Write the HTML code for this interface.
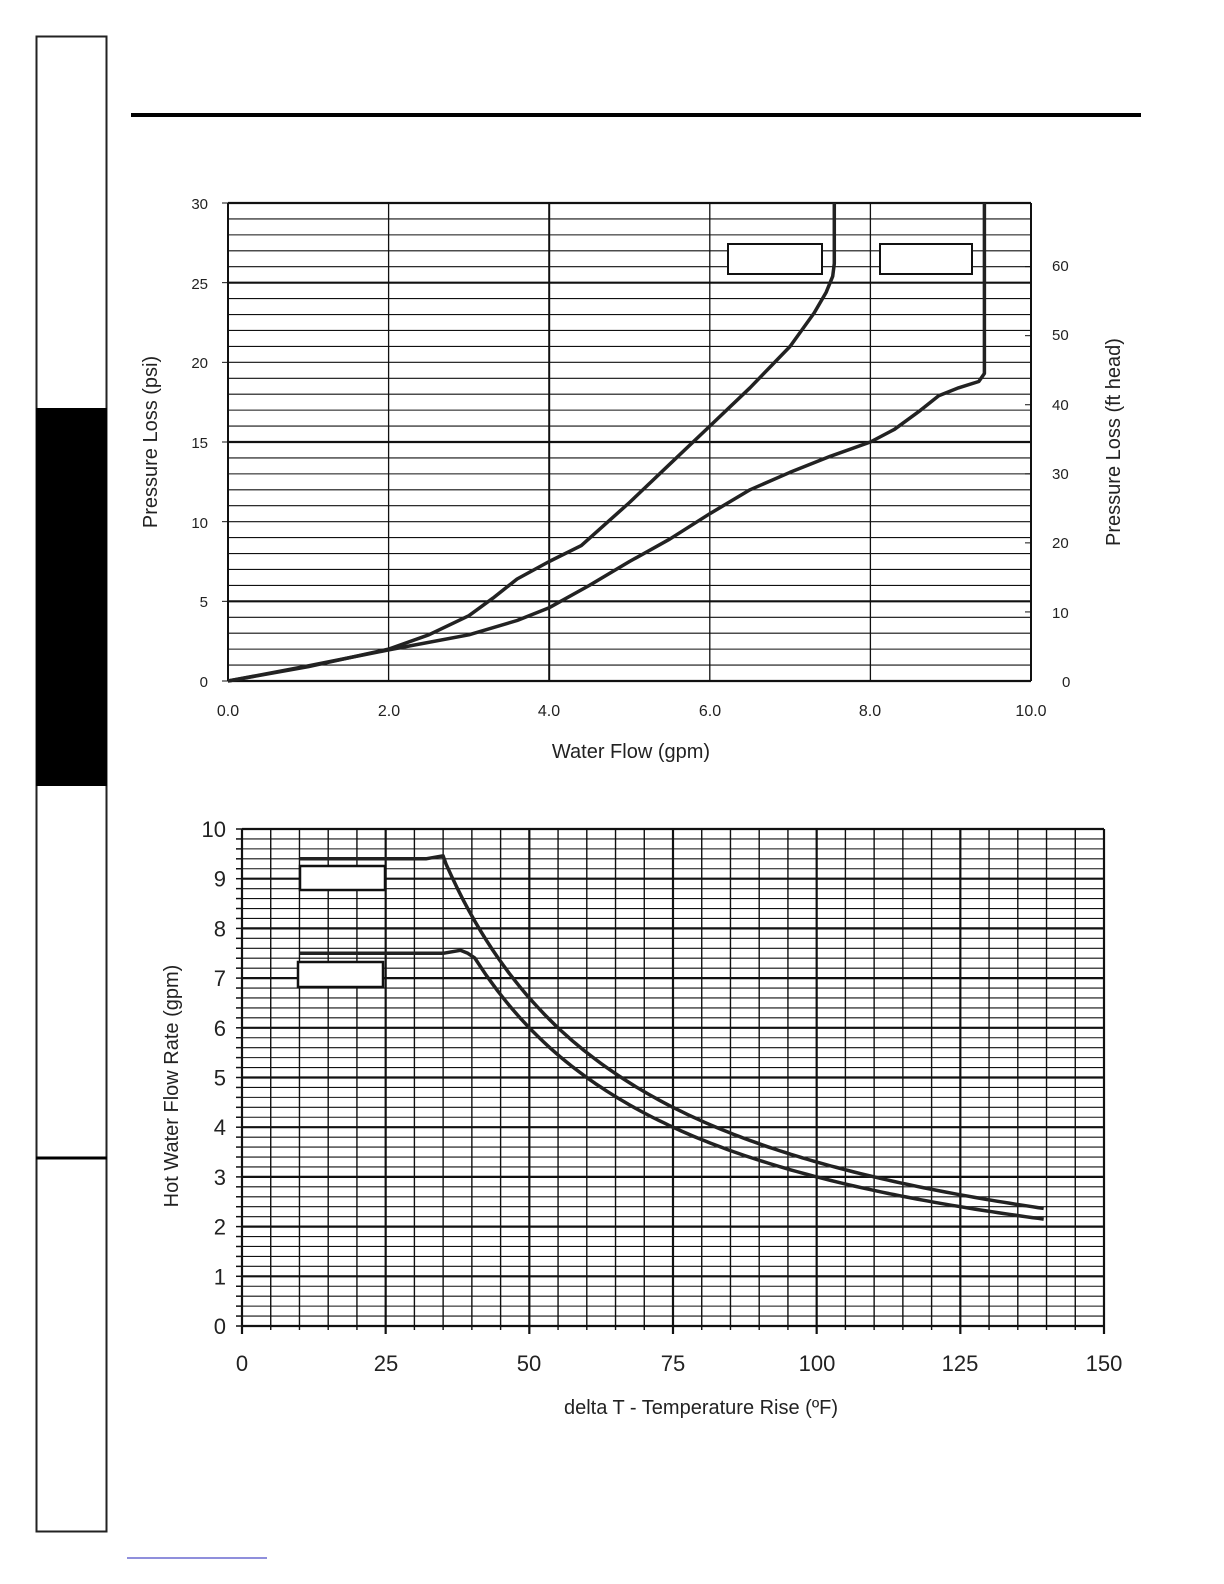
<!DOCTYPE html>
<html><head><meta charset="utf-8"><style>
body{margin:0;background:#fff;width:1224px;height:1584px;overflow:hidden}
svg{display:block}
text{font-family:"Liberation Sans",Arial,sans-serif;fill:#222}
</style></head><body>
<svg id="s" width="1224" height="1584" xmlns="http://www.w3.org/2000/svg">
<rect x="36.5" y="36.5" width="70" height="1495" fill="none" stroke="#222" stroke-width="2"/>
<rect x="36" y="408" width="71" height="378" fill="#000"/>
<line x1="36" y1="1158" x2="107" y2="1158" stroke="#000" stroke-width="3"/>
<line x1="131" y1="115" x2="1141" y2="115" stroke="#000" stroke-width="4"/>
<line x1="127" y1="1558" x2="267" y2="1558" stroke="#6a6ad0" stroke-width="1.5"/>
<g id="g1"></g><g id="g2"></g>
<g font-size="15" text-anchor="end">
<text x="208" y="209">30</text><text x="208" y="289">25</text><text x="208" y="368">20</text><text x="208" y="448">15</text><text x="208" y="528">10</text><text x="208" y="607">5</text><text x="208" y="687">0</text>
</g>
<g font-size="15" text-anchor="start">
<text x="1052" y="271">60</text><text x="1052" y="340">50</text><text x="1052" y="410">40</text><text x="1052" y="479">30</text><text x="1052" y="548">20</text><text x="1052" y="618">10</text><text x="1062" y="687">0</text>
</g>
<g font-size="16" text-anchor="middle">
<text x="228" y="716">0.0</text><text x="389" y="716">2.0</text><text x="549" y="716">4.0</text><text x="710" y="716">6.0</text><text x="870" y="716">8.0</text><text x="1031" y="716">10.0</text>
</g>
<text x="631" y="758" font-size="20" text-anchor="middle">Water Flow (gpm)</text>
<text transform="translate(157,442) rotate(-90)" font-size="20" text-anchor="middle">Pressure Loss (psi)</text>
<text transform="translate(1120,442) rotate(-90)" font-size="20" text-anchor="middle">Pressure Loss (ft head)</text>
<g font-size="22" text-anchor="end" id="yl2"></g>
<g font-size="22" text-anchor="middle">
<text x="242" y="1371">0</text><text x="386" y="1371">25</text><text x="529" y="1371">50</text><text x="673" y="1371">75</text><text x="817" y="1371">100</text><text x="960" y="1371">125</text><text x="1104" y="1371">150</text>
</g>
<text x="701" y="1414" font-size="20" text-anchor="middle">delta T - Temperature Rise (ºF)</text>
<text transform="translate(178,1086) rotate(-90)" font-size="20" text-anchor="middle">Hot Water Flow Rate (gpm)</text>
</svg>
<script>
var NS="http://www.w3.org/2000/svg";
function el(p,t,a){var e=document.createElementNS(NS,t);for(var k in a)e.setAttribute(k,a[k]);p.appendChild(e);return e;}
var g1=document.getElementById('g1'),g2=document.getElementById('g2');
var X0=228,X1=1031,Y0=681,Y1=203;
function tx(v){return X0+(X1-X0)*v/10} function ty(v){return Y0-(Y0-Y1)*v/30}
for(var i=0;i<=30;i++){var y=ty(i);var b=(i==5||i==15||i==25||i==0||i==30);el(g1,'line',{x1:X0,x2:X1,y1:y,y2:y,stroke:'#111','stroke-width':(b?2.2:1.1)});if(i%5==0)el(g1,'line',{x1:X0-6,x2:X0,y1:y,y2:y,stroke:'#111','stroke-width':1});}
for(var i=0;i<=10;i+=2){var x=tx(i);el(g1,'line',{x1:x,x2:x,y1:Y1,y2:Y0,stroke:'#111','stroke-width':(i==4||i==0||i==10?2:1.3)});}
for(var f=0;f<=60;f+=10){var y=ty(f/2.307);el(g1,'line',{x1:X1-6,x2:X1,y1:y,y2:y,stroke:'#111','stroke-width':1});}
el(g1,'rect',{x:728,y:244,width:94,height:30,fill:'#fff',stroke:'#111','stroke-width':2});
el(g1,'rect',{x:880,y:244,width:92,height:30,fill:'#fff',stroke:'#111','stroke-width':2});
function cat(pts,fx,fy){var s='';for(var i=0;i<pts.length;i++)s+=(i?'L':'M')+fx(pts[i][0]).toFixed(1)+','+fy(pts[i][1]).toFixed(1);return s;}
var A=[[0,0],[1,0.9],[2,2],[2.5,2.9],[3,4.1],[3.3,5.2],[3.6,6.4],[4,7.5],[4.4,8.5],[5,11.2],[5.5,13.6],[6,16],[6.5,18.4],[7,21],[7.3,23.1],[7.45,24.4],[7.53,25.4],[7.55,26.2],[7.55,30]];
var B=[[0,0],[1,0.95],[2,1.95],[3,2.9],[3.6,3.8],[4,4.6],[4.5,6],[5,7.5],[5.5,8.9],[6,10.5],[6.5,12],[7,13.1],[7.5,14.1],[8,15],[8.3,15.8],[8.6,16.9],[8.85,17.9],[9.1,18.4],[9.35,18.8],[9.42,19.3],[9.42,30]];
el(g1,'path',{d:cat(A,tx,ty),fill:'none',stroke:'#222','stroke-width':3.5,'stroke-linejoin':'round'});
el(g1,'path',{d:cat(B,tx,ty),fill:'none',stroke:'#222','stroke-width':3.5,'stroke-linejoin':'round'});
var U0=242,U1=1104,V0=1326,V1=829;
function ux(v){return U0+(U1-U0)*v/150} function uy(v){return V0-(V0-V1)*v/10}
for(var i=0;i<=50;i++){var y=uy(i/5);el(g2,'line',{x1:U0,x2:U1,y1:y,y2:y,stroke:'#111','stroke-width':(i%5==0?2.2:1.1)});el(g2,'line',{x1:U0-6,x2:U0,y1:y,y2:y,stroke:'#111','stroke-width':1.5});}
for(var i=0;i<=30;i++){var x=ux(i*5);el(g2,'line',{x1:x,x2:x,y1:V1,y2:V0+(i%5==0?8:4),stroke:'#111','stroke-width':(i%5==0||i==30?2.2:1.4)});}
var yl=document.getElementById('yl2');
for(var i=0;i<=10;i++){var t=el(yl,'text',{x:226,y:uy(i)+8});t.textContent=i;}
el(g2,'rect',{x:300,y:866,width:85,height:24,fill:'#fff',stroke:'#111','stroke-width':2.5});
el(g2,'rect',{x:298,y:962,width:85,height:25,fill:'#fff',stroke:'#111','stroke-width':2.5});
var P=[[10,9.4],[32,9.4],[35,9.46]];for(var t=35.5;t<=140;t+=1)P.push([t,330/t]);
var Q=[[10,7.5],[35,7.5],[38,7.56],[39.3,7.5]];for(var t=40.5;t<=140;t+=1)Q.push([t,300/t]);
el(g2,'path',{d:cat(P,ux,uy),fill:'none',stroke:'#222','stroke-width':3.5,'stroke-linejoin':'round'});
el(g2,'path',{d:cat(Q,ux,uy),fill:'none',stroke:'#222','stroke-width':3.5,'stroke-linejoin':'round'});
</script>
</body></html>
